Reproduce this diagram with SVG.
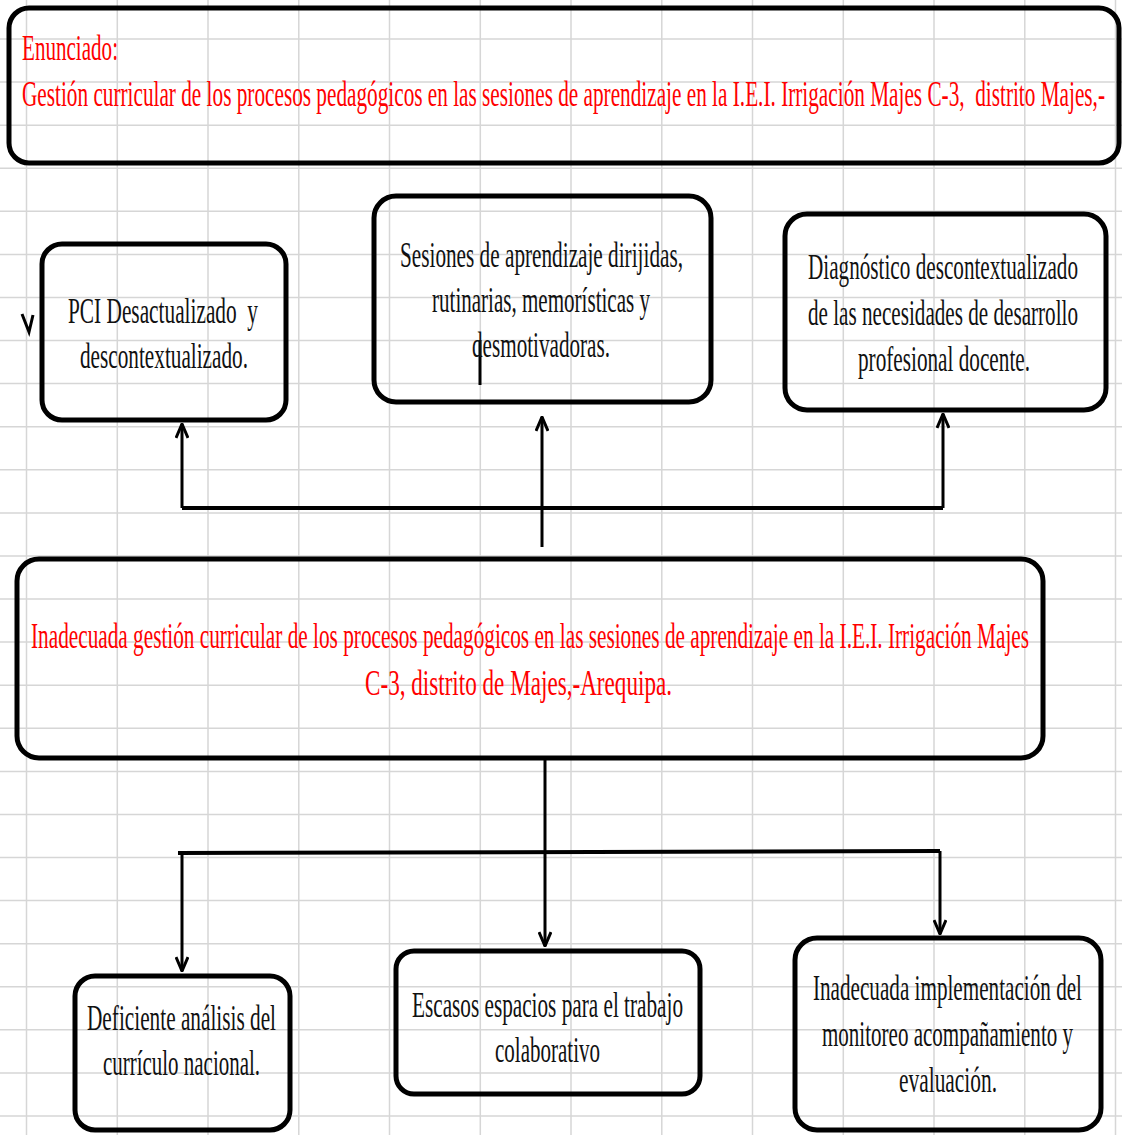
<svg xmlns="http://www.w3.org/2000/svg" width="1122" height="1135" viewBox="0 0 1122 1135">
<style>
.grid line{stroke:#d6d6d6;stroke-width:1.5}
.box{fill:none;stroke:#000;stroke-width:5}
.t{font-family:"Liberation Serif","Times New Roman",serif;font-size:21px;fill:#111}
.r{fill:#ff0000}
.conn path{fill:none;stroke:#000;stroke-width:3}
.conn .bar{stroke-width:4}
</style>
<defs>
<marker id="arr" viewBox="0 0 16 14" refX="15" refY="7" markerWidth="16" markerHeight="14" markerUnits="userSpaceOnUse" orient="auto">
<path d="M1,1 L15,7 L1,13" fill="none" stroke="#000" stroke-width="3"/>
</marker>
</defs>
<rect width="1122" height="1135" fill="#fff"/>
<g class="grid">
<line x1="26.5" y1="0" x2="26.5" y2="1135"/>
<line x1="117.3" y1="0" x2="117.3" y2="1135"/>
<line x1="208" y1="0" x2="208" y2="1135"/>
<line x1="298.8" y1="0" x2="298.8" y2="1135"/>
<line x1="389.5" y1="0" x2="389.5" y2="1135"/>
<line x1="480.3" y1="0" x2="480.3" y2="1135"/>
<line x1="571" y1="0" x2="571" y2="1135"/>
<line x1="661.8" y1="0" x2="661.8" y2="1135"/>
<line x1="752.5" y1="0" x2="752.5" y2="1135"/>
<line x1="843.3" y1="0" x2="843.3" y2="1135"/>
<line x1="934" y1="0" x2="934" y2="1135"/>
<line x1="1024.8" y1="0" x2="1024.8" y2="1135"/>
<line x1="1115.5" y1="0" x2="1115.5" y2="1135"/>
<line x1="0" y1="39" x2="1122" y2="39"/>
<line x1="0" y1="82.1" x2="1122" y2="82.1"/>
<line x1="0" y1="125.2" x2="1122" y2="125.2"/>
<line x1="0" y1="168.2" x2="1122" y2="168.2"/>
<line x1="0" y1="211.3" x2="1122" y2="211.3"/>
<line x1="0" y1="254.4" x2="1122" y2="254.4"/>
<line x1="0" y1="297.5" x2="1122" y2="297.5"/>
<line x1="0" y1="340.6" x2="1122" y2="340.6"/>
<line x1="0" y1="383.6" x2="1122" y2="383.6"/>
<line x1="0" y1="426.7" x2="1122" y2="426.7"/>
<line x1="0" y1="469.8" x2="1122" y2="469.8"/>
<line x1="0" y1="512.9" x2="1122" y2="512.9"/>
<line x1="0" y1="556" x2="1122" y2="556"/>
<line x1="0" y1="599" x2="1122" y2="599"/>
<line x1="0" y1="642.1" x2="1122" y2="642.1"/>
<line x1="0" y1="685.2" x2="1122" y2="685.2"/>
<line x1="0" y1="728.3" x2="1122" y2="728.3"/>
<line x1="0" y1="771.4" x2="1122" y2="771.4"/>
<line x1="0" y1="814.4" x2="1122" y2="814.4"/>
<line x1="0" y1="857.5" x2="1122" y2="857.5"/>
<line x1="0" y1="900.6" x2="1122" y2="900.6"/>
<line x1="0" y1="943.7" x2="1122" y2="943.7"/>
<line x1="0" y1="986.8" x2="1122" y2="986.8"/>
<line x1="0" y1="1029.8" x2="1122" y2="1029.8"/>
<line x1="0" y1="1072.9" x2="1122" y2="1072.9"/>
<line x1="0" y1="1116" x2="1122" y2="1116"/>
</g>
<g id="connectors" class="conn">
<path class="bar" d="M182,508 L943,508"/>
<path d="M182,508 L182,424" marker-end="url(#arr)"/>
<path d="M943,508 L943,414" marker-end="url(#arr)"/>
<path d="M542,547 L542,417" marker-end="url(#arr)"/>
<path d="M545,760 L545,946" marker-end="url(#arr)"/>
<path class="bar" d="M178,853 L940,851"/>
<path d="M182,853 L182,971" marker-end="url(#arr)"/>
<path d="M940,851 L940,934" marker-end="url(#arr)"/>
<path d="M22,314 L29,332 L33,315" stroke-width="2.5"/>
<path d="M480,340 L480,385" stroke="#333" stroke-width="1.5"/>
</g>
<g id="enunciado">
<rect class="box" x="9" y="8" width="1110" height="155" rx="20"/>
<text class="t r" transform="translate(22,60) scale(1,1.714)" textLength="96" lengthAdjust="spacingAndGlyphs">Enunciado:</text>
<text class="t r" transform="translate(22,106) scale(1,1.714)" textLength="1083" lengthAdjust="spacingAndGlyphs" xml:space="preserve">Gestión curricular de los procesos pedagógicos en las sesiones de aprendizaje en la I.E.I. Irrigación Majes C-3,  distrito Majes,-</text>
</g>
<g id="pci">
<rect class="box" x="42" y="244" width="244" height="176" rx="20"/>
<text class="t" transform="translate(68,323) scale(1,1.714)" textLength="190" lengthAdjust="spacingAndGlyphs" xml:space="preserve">PCI Desactualizado  y</text>
<text class="t" transform="translate(80,368) scale(1,1.714)" textLength="168" lengthAdjust="spacingAndGlyphs">descontextualizado.</text>
</g>
<g id="sesiones">
<rect class="box" x="374" y="196" width="337" height="206" rx="22"/>
<text class="t" transform="translate(400,267) scale(1,1.714)" textLength="283" lengthAdjust="spacingAndGlyphs">Sesiones de aprendizaje dirijidas,</text>
<text class="t" transform="translate(432,312) scale(1,1.714)" textLength="218" lengthAdjust="spacingAndGlyphs">rutinarias, memorísticas y</text>
<text class="t" transform="translate(472,357) scale(1,1.714)" textLength="138" lengthAdjust="spacingAndGlyphs">desmotivadoras.</text>
</g>
<g id="diagnostico">
<rect class="box" x="785" y="214" width="321" height="196" rx="22"/>
<text class="t" transform="translate(808,279) scale(1,1.714)" textLength="270" lengthAdjust="spacingAndGlyphs">Diagnóstico descontextualizado</text>
<text class="t" transform="translate(808,325) scale(1,1.714)" textLength="270" lengthAdjust="spacingAndGlyphs">de las necesidades de desarrollo</text>
<text class="t" transform="translate(858,371) scale(1,1.714)" textLength="172" lengthAdjust="spacingAndGlyphs">profesional docente.</text>
</g>
<g id="problema">
<rect class="box" x="17" y="559" width="1026" height="199" rx="22"/>
<text class="t r" transform="translate(31,648) scale(1,1.714)" textLength="998" lengthAdjust="spacingAndGlyphs">Inadecuada gestión curricular de los procesos pedagógicos en las sesiones de aprendizaje en la I.E.I. Irrigación Majes</text>
<text class="t r" transform="translate(365,695) scale(1,1.714)" textLength="307" lengthAdjust="spacingAndGlyphs">C-3, distrito de Majes,-Arequipa.</text>
</g>
<g id="deficiente">
<rect class="box" x="75" y="976" width="215" height="154" rx="20"/>
<text class="t" transform="translate(87,1030) scale(1,1.714)" textLength="189" lengthAdjust="spacingAndGlyphs">Deficiente análisis del</text>
<text class="t" transform="translate(103,1075) scale(1,1.714)" textLength="157" lengthAdjust="spacingAndGlyphs">currículo nacional.</text>
</g>
<g id="escasos">
<rect class="box" x="396" y="951" width="304" height="143" rx="18"/>
<text class="t" transform="translate(412,1017) scale(1,1.714)" textLength="271" lengthAdjust="spacingAndGlyphs">Escasos espacios para el trabajo</text>
<text class="t" transform="translate(495,1062) scale(1,1.714)" textLength="105" lengthAdjust="spacingAndGlyphs">colaborativo</text>
</g>
<g id="implementacion">
<rect class="box" x="795" y="938" width="306" height="192" rx="22"/>
<text class="t" transform="translate(813,1000) scale(1,1.714)" textLength="269" lengthAdjust="spacingAndGlyphs">Inadecuada implementación del</text>
<text class="t" transform="translate(822,1046) scale(1,1.714)" textLength="251" lengthAdjust="spacingAndGlyphs">monitoreo acompañamiento y</text>
<text class="t" transform="translate(899,1092) scale(1,1.714)" textLength="98" lengthAdjust="spacingAndGlyphs">evaluación.</text>
</g>
</svg>
